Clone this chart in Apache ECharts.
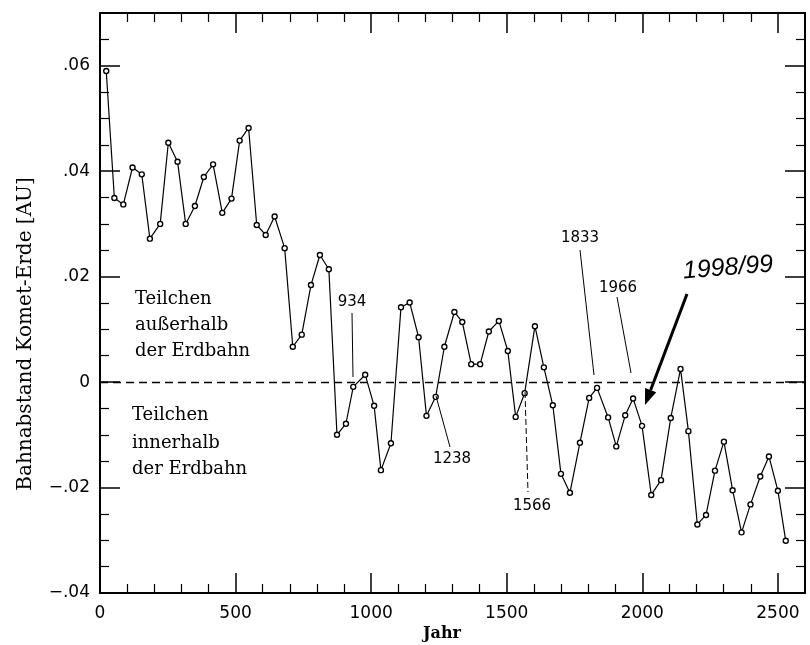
<!DOCTYPE html>
<html>
<head>
<meta charset="utf-8">
<script src="https://cdn.jsdelivr.net/npm/echarts@6/dist/echarts.min.js"></script>
<style>
  html, body { margin: 0; padding: 0; background: #fff; }
  #chart { width: 810px; height: 645px; }
</style>
</head>
<body>
<div id="chart"></div>
<script>
// years of the comet returns and the orbit distance comet - earth [AU]
var years = [23, 53, 86, 120, 154, 184, 222, 252, 286, 316, 350, 383, 417, 451, 485, 515, 548, 578,
  611, 644, 681, 711, 744, 778, 811, 844, 874, 907, 934, 978, 1011, 1036, 1073, 1110, 1142, 1175,
  1204, 1238, 1270, 1307, 1336, 1369, 1402, 1434, 1471, 1504, 1533, 1566, 1604, 1637, 1670, 1700,
  1733, 1770, 1804, 1833, 1874, 1904, 1937, 1966, 1999, 2033, 2069, 2105, 2141, 2170, 2203, 2235,
  2268, 2301, 2333, 2366, 2399, 2435, 2467, 2500, 2529];
var distance = [0.0590, 0.0349, 0.0337, 0.0407, 0.0394, 0.0272, 0.0300, 0.0454, 0.0418, 0.0300,
  0.0334, 0.0389, 0.0413, 0.0321, 0.0348, 0.0458, 0.0482, 0.0298, 0.0279, 0.0314, 0.0254, 0.0067,
  0.0090, 0.0184, 0.0241, 0.0214, -0.0100, -0.0079, -0.0009, 0.0014, -0.0045, -0.0167, -0.0116,
  0.0142, 0.0151, 0.0085, -0.0064, -0.0028, 0.0067, 0.0133, 0.0114, 0.0034, 0.0034, 0.0096,
  0.0116, 0.0059, -0.0066, -0.0021, 0.0106, 0.0028, -0.0044, -0.0174, -0.0210, -0.0115, -0.0030,
  -0.0011, -0.0067, -0.0122, -0.0063, -0.0031, -0.0083, -0.0214, -0.0186, -0.0068, 0.0025,
  -0.0093, -0.0270, -0.0252, -0.0168, -0.0113, -0.0205, -0.0285, -0.0232, -0.0179, -0.0141,
  -0.0206, -0.0301];

var xTicks = [0, 500, 1000, 1500, 2000, 2500];
var yTicks = [-0.04, -0.02, 0, 0.02, 0.04, 0.06];

var chart = echarts.init(document.getElementById("chart"));

function yLabel(v) {
  var r = Math.round(Math.abs(v) * 100);
  if (r === 0) return "0";
  if (yTicks.indexOf(Math.round(v * 100) / 100) < 0) return "";
  return (v < 0 ? "\u2212" : "") + "." + (r < 10 ? "0" + r : r);
}

var tickFont = { fontFamily: "DejaVu Sans", fontSize: 17, color: "#000" };
var serif = "DejaVu Serif";

function xAxisCfg(pos, showLabel) {
  return {
    type: "value", position: pos, min: 0, max: 2600, interval: 500,
    axisLine: { show: true, onZero: false, lineStyle: { color: "#000", width: 2 } },
    axisTick: { show: true, inside: true, length: 20, lineStyle: { color: "#000", width: 1.5 } },
    minorTick: { show: true, splitNumber: 5, length: 9, lineStyle: { color: "#000", width: 1.2 } },
    splitLine: { show: false },
    axisLabel: {
      show: showLabel, margin: 12,
      formatter: function (v) { return xTicks.indexOf(v) >= 0 ? String(v) : ""; },
      fontFamily: tickFont.fontFamily, fontSize: tickFont.fontSize, color: tickFont.color
    }
  };
}

function yAxisCfg(pos, showLabel) {
  return {
    type: "value", position: pos, min: -0.04, max: 0.07, interval: 0.02,
    axisLine: { show: true, onZero: false, lineStyle: { color: "#000", width: 2 } },
    axisTick: { show: true, inside: true, length: 20, lineStyle: { color: "#000", width: 1.5 } },
    minorTick: { show: true, splitNumber: 4, length: 9, lineStyle: { color: "#000", width: 1.2 } },
    splitLine: { show: false },
    axisLabel: {
      show: showLabel, margin: 10, formatter: yLabel,
      fontFamily: tickFont.fontFamily, fontSize: tickFont.fontSize, color: tickFont.color
    }
  };
}

function txt(s, x, y, font, align, rot) {
  return {
    type: "text", z: 100, x: x, y: y, rotation: rot || 0,
    style: { text: s, x: 0, y: 0, font: font, fill: "#000", textAlign: align || "center", textVerticalAlign: "middle" }
  };
}
function seg(x1, y1, x2, y2, w, dash) {
  return {
    type: "line", z: 100,
    shape: { x1: x1, y1: y1, x2: x2, y2: y2 },
    style: { stroke: "#000", lineWidth: w || 1, lineDash: dash || null }
  };
}

// arrow for 1998/99
var ax1 = 687, ay1 = 294, ax2 = 645, ay2 = 405;
var ang = Math.atan2(ay2 - ay1, ax2 - ax1);
var hl = 16, hw = 6;
var bx = ax2 - hl * Math.cos(ang), by = ay2 - hl * Math.sin(ang);
var head = [
  [ax2, ay2],
  [bx + hw * Math.sin(ang), by - hw * Math.cos(ang)],
  [bx - hw * Math.sin(ang), by + hw * Math.cos(ang)]
];

chart.setOption({
  animation: false,
  backgroundColor: "#fff",
  grid: { left: 100, right: 5, top: 13, bottom: 52 },
  xAxis: [xAxisCfg("bottom", true), xAxisCfg("top", false)],
  yAxis: [yAxisCfg("left", true), yAxisCfg("right", false)],
  series: [{
    type: "line",
    xAxisIndex: 0, yAxisIndex: 0,
    data: years.map(function (y, i) { return [y, distance[i]]; }),
    symbol: "circle", symbolSize: 5,
    lineStyle: { color: "#000", width: 1.2 },
    itemStyle: { color: "#fff", borderColor: "#000", borderWidth: 1.4 },
    markLine: {
      silent: true, symbol: "none", label: { show: false },
      lineStyle: { color: "#000", width: 1.3, type: [8, 5] },
      data: [{ yAxis: 0 }]
    },
    z: 10
  }],
  graphic: [
    txt("Bahnabstand Komet-Erde [AU]", 26, 334, "20px " + serif, "center", Math.PI / 2),
    txt("Jahr", 442, 634, "bold 16px " + serif),
    txt("Teilchen", 135, 299, "18px " + serif, "left"),
    txt("au\u00dferhalb", 135, 325, "18px " + serif, "left"),
    txt("der Erdbahn", 135, 351, "18px " + serif, "left"),
    txt("Teilchen", 132, 415, "18px " + serif, "left"),
    txt("innerhalb", 132, 443, "18px " + serif, "left"),
    txt("der Erdbahn", 132, 469, "18px " + serif, "left"),
    txt("934", 352, 302, "15px DejaVu Sans"),
    seg(352, 313, 353, 377),
    txt("1238", 452, 459, "15px DejaVu Sans"),
    seg(436, 396, 450, 447),
    txt("1566", 532, 506, "15px DejaVu Sans"),
    seg(525, 392, 528, 492, 1, [6, 3]),
    txt("1833", 580, 238, "15px DejaVu Sans"),
    seg(580, 250, 594, 375),
    txt("1966", 618, 288, "15px DejaVu Sans"),
    seg(617, 297, 631, 373),
    txt("1998/99", 728, 268, "italic 25px 'Liberation Sans'", "center", 0.08),
    seg(ax1, ay1, bx, by, 3),
    { type: "polygon", z: 100, shape: { points: head }, style: { fill: "#000" } }
  ]
});
</script>
</body>
</html>
